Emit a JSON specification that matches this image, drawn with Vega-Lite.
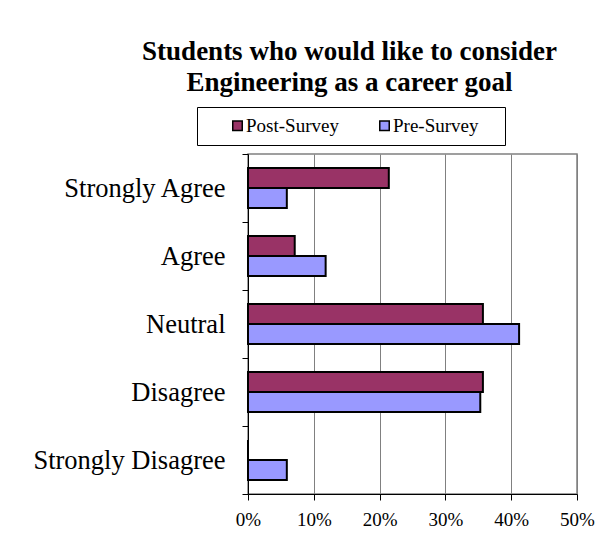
{
  "$schema": "https://vega.github.io/schema/vega-lite/v6.json",
  "width": 329,
  "height": 340,
  "autosize": {"type": "none"},
  "padding": {"left": 248, "top": 154, "right": 31, "bottom": 48},
  "background": "white",
  "title": {
    "text": ["Students who would like to consider", "Engineering as a career goal"],
    "font": "Liberation Serif",
    "fontSize": 27,
    "fontWeight": "bold",
    "color": "black",
    "anchor": "middle",
    "frame": "group",
    "dx": -63,
    "lineHeight": 31,
    "baseline": "bottom",
    "offset": -17
  },
  "data": {
    "values": [
      {"response": "Strongly Agree", "survey": "Post-Survey", "pct": 0.214},
      {"response": "Strongly Agree", "survey": "Pre-Survey", "pct": 0.059},
      {"response": "Agree", "survey": "Post-Survey", "pct": 0.071},
      {"response": "Agree", "survey": "Pre-Survey", "pct": 0.118},
      {"response": "Neutral", "survey": "Post-Survey", "pct": 0.357},
      {"response": "Neutral", "survey": "Pre-Survey", "pct": 0.412},
      {"response": "Disagree", "survey": "Post-Survey", "pct": 0.357},
      {"response": "Disagree", "survey": "Pre-Survey", "pct": 0.353},
      {"response": "Strongly Disagree", "survey": "Post-Survey", "pct": 0},
      {"response": "Strongly Disagree", "survey": "Pre-Survey", "pct": 0.059}
    ]
  },
  "mark": {"type": "bar", "stroke": "black", "strokeWidth": 2},
  "encoding": {
    "y": {
      "field": "response",
      "type": "nominal",
      "sort": ["Strongly Agree", "Agree", "Neutral", "Disagree", "Strongly Disagree"],
      "scale": {"paddingInner": 0, "paddingOuter": 0},
      "axis": {
        "title": null,
        "labelFont": "Liberation Serif",
        "labelFontSize": 26.5,
        "labelColor": "black",
        "labelPadding": 17,
        "labelLimit": 400,
        "tickSize": 6,
        "tickColor": "black",
        "tickBand": "extent",
        "domainColor": "black",
        "grid": false
      }
    },
    "yOffset": {
      "field": "survey",
      "sort": ["Post-Survey", "Pre-Survey"],
      "scale": {"paddingInner": 0, "paddingOuter": 0.7}
    },
    "x": {
      "field": "pct",
      "type": "quantitative",
      "scale": {"domain": [0, 0.5], "nice": false},
      "axis": {
        "title": null,
        "values": [0, 0.1, 0.2, 0.3, 0.4, 0.5],
        "format": ".0%",
        "labelFont": "Liberation Serif",
        "labelFontSize": 19,
        "labelColor": "black",
        "labelPadding": 10,
        "labelFlush": false,
        "tickSize": 6,
        "tickColor": "black",
        "domainColor": "black",
        "grid": true,
        "gridColor": "#808080",
        "gridWidth": 1
      }
    },
    "color": {
      "field": "survey",
      "type": "nominal",
      "scale": {"domain": ["Post-Survey", "Pre-Survey"], "range": ["#993366", "#9999FF"]},
      "legend": {
        "title": " ",
        "titleOrient": "right",
        "titleFontSize": 19,
        "titlePadding": 18,
        "orient": "none",
        "legendX": -51,
        "legendY": -47,
        "direction": "horizontal",
        "columns": 2,
        "gridAlign": "all",
        "strokeColor": "black",
        "fillColor": "white",
        "padding": 9,
        "symbolType": "square",
        "symbolSize": 90,
        "symbolStrokeColor": "black",
        "symbolStrokeWidth": 1.5,
        "symbolOffset": 22,
        "labelFont": "Liberation Serif",
        "labelFontSize": 19,
        "labelColor": "black",
        "labelOffset": -1,
        "columnPadding": 14
      }
    }
  },
  "config": {
    "font": "Liberation Serif",
    "legend": {"labelFont": "Liberation Serif"},
    "axis": {"labelFont": "Liberation Serif"},
    "view": {"stroke": "#808080", "strokeWidth": 1.5}
  }
}
